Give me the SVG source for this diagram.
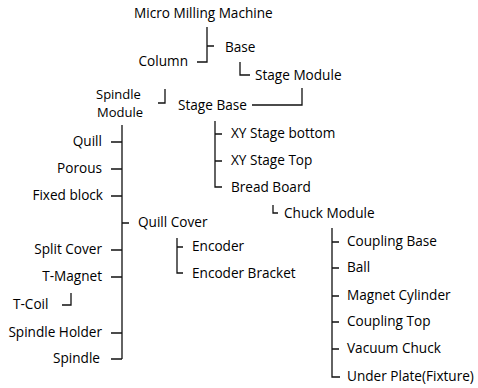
<svg xmlns="http://www.w3.org/2000/svg" width="478" height="388" viewBox="0 0 478 388">
<style>
text{font-family:"Open Sans","Noto Sans",sans-serif;font-size:13.6px;fill:#000}
.e{text-anchor:end}
.s{font-size:13px}
.c{fill:none;stroke:#111;stroke-width:1.3}
</style>
<rect width="478" height="388" fill="#fff"/>
<g id="connectors" class="c">
<path d="M207,27V62H197M207,46H214"/>
<path d="M240,62V75H250"/>
<path d="M165,89V103H158"/>
<path d="M302,88V105H252"/>
<path d="M122,125V359M111,142H122M111,169H122M111,196H122M122,223H129M111,250H122M111,277H122M111,333H122M111,359H122"/>
<path d="M71,293V305H62"/>
<path d="M215,121V187H222M215,134H222M215,161H222"/>
<path d="M273,205V213H278"/>
<path d="M177,238V273H183M177,247H183"/>
<path d="M332,228V377H340M332,242H339M332,268H339M332,296H339M332,322H339M332,349H339"/>
</g>
<g id="n-mmm"><text x="134" y="18">Micro Milling Machine</text></g>
<g id="n-base"><text x="225" y="52">Base</text></g>
<g id="n-stagemodule"><text x="255" y="80">Stage Module</text></g>
<g id="n-column"><text class="e" x="188" y="66">Column</text></g>
<g id="n-spindlemodule"><text class="s" x="96" y="99">Spindle</text><text class="s" x="97" y="117">Module</text></g>
<g id="n-stagebase"><text x="178" y="110">Stage Base</text></g>
<g id="n-quill"><text class="e" x="102" y="146">Quill</text></g>
<g id="n-porous"><text class="e" x="102" y="173">Porous</text></g>
<g id="n-fixed"><text class="e" x="103" y="200">Fixed block</text></g>
<g id="n-quillcover"><text x="138" y="227">Quill Cover</text></g>
<g id="n-split"><text class="e" x="102" y="254">Split Cover</text></g>
<g id="n-tmagnet"><text class="e" x="102" y="281">T-Magnet</text></g>
<g id="n-tcoil"><text x="13" y="309">T-Coil</text></g>
<g id="n-holder"><text class="e" x="102" y="337">Spindle Holder</text></g>
<g id="n-spindle"><text class="e" x="100" y="363">Spindle</text></g>
<g id="n-xyb"><text x="231" y="138">XY Stage bottom</text></g>
<g id="n-xyt"><text x="231" y="165">XY Stage Top</text></g>
<g id="n-bread"><text x="231" y="192">Bread Board</text></g>
<g id="n-chuck"><text x="284" y="218">Chuck Module</text></g>
<g id="n-encoder"><text x="192" y="251">Encoder</text></g>
<g id="n-encbr"><text x="192" y="278">Encoder Bracket</text></g>
<g id="n-cb"><text x="347" y="246">Coupling Base</text></g>
<g id="n-ball"><text x="347" y="272">Ball</text></g>
<g id="n-mc"><text x="347" y="300">Magnet Cylinder</text></g>
<g id="n-ct"><text x="347" y="326">Coupling Top</text></g>
<g id="n-vc"><text x="347" y="353">Vacuum Chuck</text></g>
<g id="n-up"><text x="347" y="381">Under Plate(Fixture)</text></g>
</svg>
